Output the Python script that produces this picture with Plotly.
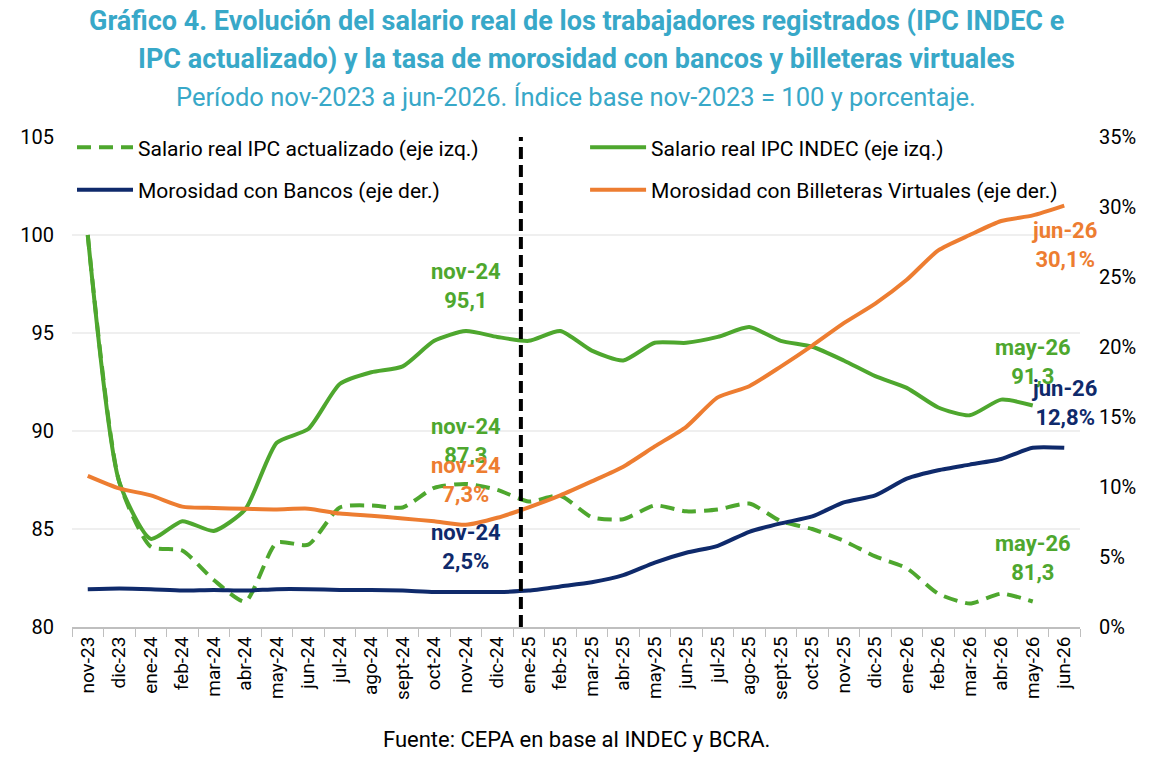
import plotly.graph_objects as go

# ================================
# Data
# ================================
meses = ['nov-23', 'dic-23', 'ene-24', 'feb-24', 'mar-24', 'abr-24', 'may-24', 'jun-24',
         'jul-24', 'ago-24', 'sept-24', 'oct-24', 'nov-24', 'dic-24', 'ene-25', 'feb-25',
         'mar-25', 'abr-25', 'may-25', 'jun-25', 'jul-25', 'ago-25', 'sept-25', 'oct-25',
         'nov-25', 'dic-25', 'ene-26', 'feb-26', 'mar-26', 'abr-26', 'may-26', 'jun-26']

salario_actualizado = [100.0, 87.4, 84.1, 83.9, 82.4, 81.3, 84.3, 84.2, 86.1, 86.2, 86.1, 87.1,
                       87.3, 87.0, 86.4, 86.7, 85.6, 85.5, 86.2, 85.9, 86.0, 86.3, 85.4, 85.0,
                       84.4, 83.6, 83.0, 81.7, 81.2, 81.7, 81.3, None]

salario_indec = [100.0, 87.4, 84.5, 85.4, 84.9, 86.0, 89.4, 90.1, 92.4, 93.0, 93.3, 94.6,
                 95.1, 94.8, 94.6, 95.1, 94.1, 93.6, 94.5, 94.5, 94.8, 95.3, 94.6, 94.3,
                 93.6, 92.8, 92.2, 91.2, 90.8, 91.6, 91.3, None]

mora_bancos = [2.7, 2.75, 2.7, 2.6, 2.65, 2.6, 2.7, 2.7, 2.65, 2.65, 2.6, 2.5,
               2.5, 2.5, 2.6, 2.9, 3.2, 3.7, 4.6, 5.3, 5.8, 6.8, 7.4, 7.9,
               8.9, 9.4, 10.6, 11.2, 11.6, 12.0, 12.8, 12.8]

mora_billeteras = [10.8, 9.9, 9.4, 8.6, 8.5, 8.45, 8.4, 8.45, 8.1, 7.95, 7.75, 7.55,
                   7.3, 7.8, 8.55, 9.4, 10.4, 11.45, 12.9, 14.3, 16.4, 17.2, 18.6, 20.1,
                   21.7, 23.1, 24.8, 26.9, 28.0, 29.0, 29.4, 30.1]

VERDE = '#4EA72E'
NARANJA = '#ED7D31'
AZUL = '#0F2A6B'
CELESTE = '#38A8C8'
FUENTE = 'Roboto'

fig = go.Figure()

linea = dict(width=4, shape='spline', smoothing=0.6)
fig.add_trace(go.Scatter(x=meses, y=salario_actualizado, name='Salario real IPC actualizado (eje izq.)',
                         mode='lines', legend='legend', legendgroup='a',
                         line=dict(color=VERDE, dash='14px,8px', **linea)))
fig.add_trace(go.Scatter(x=meses, y=salario_indec, name='Salario real IPC INDEC (eje izq.)',
                         mode='lines', legend='legend2', legendgroup='b',
                         line=dict(color=VERDE, **linea)))
fig.add_trace(go.Scatter(x=meses, y=mora_bancos, name='Morosidad con Bancos (eje der.)', yaxis='y2',
                         mode='lines', legend='legend', legendgroup='c',
                         line=dict(color=AZUL, **linea)))
fig.add_trace(go.Scatter(x=meses, y=mora_billeteras, name='Morosidad con Billeteras Virtuales (eje der.)',
                         yaxis='y2', mode='lines', legend='legend2', legendgroup='d',
                         line=dict(color=NARANJA, **linea)))

# vertical dashed divider between dic-24 and ene-25
fig.add_shape(type='line', xref='x', yref='paper', x0=13.75, x1=13.75, y0=0, y1=1,
              line=dict(color='black', width=4, dash='12px,6px'), layer='above')

# ================================
# Data labels
# ================================
etiquetas = [
    ('nov-24', 95.1, 'y', 'nov-24<br>95,1', VERDE, 'bottom', 16),
    ('nov-24', 87.3, 'y', 'nov-24<br>87,3', VERDE, 'bottom', 14),
    ('nov-24', 7.3, 'y2', 'nov-24<br>7,3%', NARANJA, 'bottom', 16),
    ('nov-24', 2.5, 'y2', 'nov-24<br>2,5%', AZUL, 'bottom', 16),
    ('jun-26', 30.1, 'y2', 'jun-26<br>30,1%', NARANJA, 'top', -10),
    ('may-26', 91.3, 'y', 'may-26<br>91,3', VERDE, 'bottom', 15),
    ('jun-26', 12.8, 'y2', 'jun-26<br>12,8%', AZUL, 'bottom', 16),
    ('may-26', 81.3, 'y', 'may-26<br>81,3', VERDE, 'bottom', 15),
]
for mes, val, yref, txt, col, anchor, shift in etiquetas:
    fig.add_annotation(x=mes, y=val, xref='x', yref=yref, text='<b>' + txt + '</b>',
                       showarrow=False, yanchor=anchor, yshift=shift,
                       font=dict(family=FUENTE, size=22, color=col), align='center')

# ================================
# Titles and source
# ================================
fig.add_annotation(x=0.5, y=1.2367, xref='paper', yref='paper', showarrow=False, yanchor='middle',
                   text='<b>Gráfico 4. Evolución del salario real de los trabajadores registrados (IPC INDEC e</b>',
                   font=dict(family=FUENTE, size=27, color=CELESTE))
fig.add_annotation(x=0.5, y=1.159, xref='paper', yref='paper', showarrow=False, yanchor='middle',
                   text='<b>IPC actualizado) y la tasa de morosidad con bancos y billeteras virtuales</b>',
                   font=dict(family=FUENTE, size=27, color=CELESTE))
fig.add_annotation(x=0.5, y=1.0816, xref='paper', yref='paper', showarrow=False, yanchor='middle',
                   text='Período nov-2023 a jun-2026. Índice base nov-2023 = 100 y porcentaje.',
                   font=dict(family=FUENTE, size=25.5, color=CELESTE))
fig.add_annotation(x=0.5, y=-0.2306, xref='paper', yref='paper', showarrow=False, yanchor='middle',
                   text='Fuente: CEPA en base al INDEC y BCRA.',
                   font=dict(family=FUENTE, size=22, color='black'))

leyenda = dict(orientation='v', yanchor='top', y=1.02, xanchor='left', bgcolor='rgba(0,0,0,0)',
               font=dict(family=FUENTE, size=21, color='black'), tracegroupgap=12, itemwidth=56)

# the page body adds an 8px offset, so margins are trimmed by 8px on the left/top
fig.update_layout(
    width=1155, height=776,
    margin=dict(l=64, r=83, t=129, b=157),
    paper_bgcolor='white', plot_bgcolor='white',
    font=dict(family=FUENTE, size=20, color='black'),
    showlegend=True,
    legend=dict(x=0.0, **leyenda),
    legend2=dict(x=0.509, **leyenda),
    xaxis=dict(type='category', range=[-0.5, 31.5], tickangle=-90, tickson='boundaries',
               ticks='outside', ticklen=8, tickcolor='#bfbfbf', showline=True,
               linecolor='#bfbfbf', linewidth=2, showgrid=False, tickfont=dict(size=19)),
    yaxis=dict(range=[80, 105], dtick=5, showgrid=True, gridcolor='#efefef', gridwidth=2,
               zeroline=False, ticks='', ticklabelstandoff=17, tickfont=dict(size=20)),
    yaxis2=dict(range=[0, 35], dtick=5, overlaying='y', side='right', showgrid=False,
                ticksuffix='%', zeroline=False, ticklabelstandoff=18, tickfont=dict(size=20)),
)

fig.write_html('out.html')
